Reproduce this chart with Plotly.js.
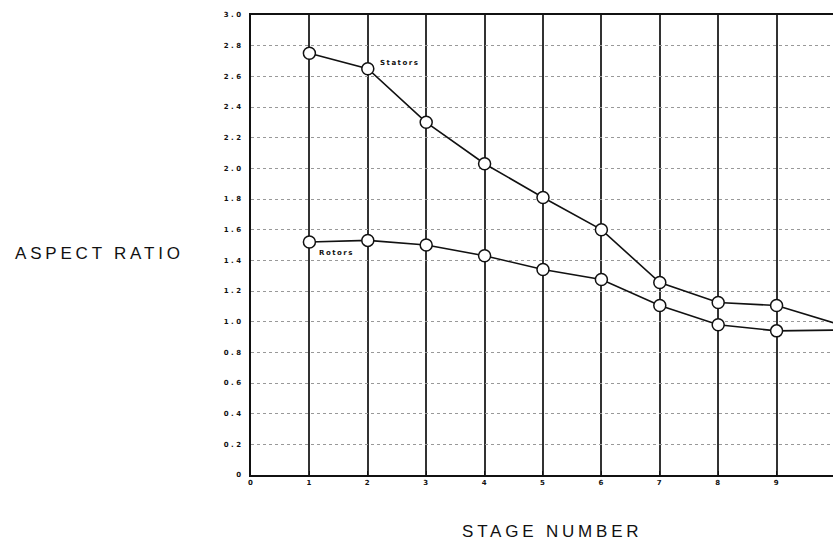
<!DOCTYPE html>
<html><head><meta charset="utf-8">
<script src="https://cdn.plot.ly/plotly-3.0.1.min.js"></script>
<style>html,body{margin:0;padding:0;background:#fff}#chart{width:833px;height:544px}</style>
</head><body><div id="chart"></div>
<script>
const stages = [1, 2, 3, 4, 5, 6, 7, 8, 9, 10];
const stators = [2.75, 2.65, 2.30, 2.03, 1.81, 1.60, 1.255, 1.125, 1.105, 0.99];
const rotors = [1.52, 1.53, 1.50, 1.43, 1.34, 1.275, 1.105, 0.98, 0.94, 0.945];
const yTickVals = [0, 0.2, 0.4, 0.6, 0.8, 1.0, 1.2, 1.4, 1.6, 1.8, 2.0, 2.2, 2.4, 2.6, 2.8, 3.0];
const yTickText = ["0", "0.2", "0.4", "0.6", "0.8", "1.0", "1.2", "1.4", "1.6", "1.8", "2.0", "2.2", "2.4", "2.6", "2.8", "3.0"];
const xTickVals = [0, 1, 2, 3, 4, 5, 6, 7, 8, 9, 10];
const xTickText = ["0", "1", "2", "3", "4", "5", "6", "7", "8", "9", "10"];

const sp = (t, px) => '<span style="letter-spacing:' + px + 'px">' + t + '</span>';

const mk = {symbol: 'circle', size: 12, color: '#fff', line: {color: '#111', width: 1.5}};
const traces = [
  {x: stages, y: stators, name: 'Stators', mode: 'lines+markers', line: {color: '#111', width: 1.6}, marker: mk, cliponaxis: false},
  {x: stages, y: rotors, name: 'Rotors', mode: 'lines+markers', line: {color: '#111', width: 1.6}, marker: mk, cliponaxis: false}
];
const layout = {
  width: 833, height: 544,
  margin: {l: 251, r: 0, t: 15, b: 69},
  paper_bgcolor: '#fff', plot_bgcolor: '#fff',
  showlegend: false,
  font: {family: 'DejaVu Sans, Arial, sans-serif', color: '#111'},
  xaxis: {
    range: [0, 9.966], tickvals: xTickVals, ticktext: xTickText.map(t => sp(t, 1)),
    showgrid: true, gridcolor: '#333', gridwidth: 2,
    showline: true, linecolor: '#111', linewidth: 2, mirror: true,
    zeroline: false, ticks: 'inside', ticklen: 4, tickcolor: '#111',
    tickfont: {size: 7, family: 'DejaVu Sans', weight: 'bold'}
  },
  yaxis: {
    range: [0, 3.0], tickvals: yTickVals, ticktext: yTickText.map(t => sp(t, 2.5)),
    showgrid: true, gridcolor: '#999', gridwidth: 1, griddash: 'dot',
    showline: true, linecolor: '#111', linewidth: 2,
    zeroline: false, ticks: '', ticklabelstandoff: 4,
    tickfont: {size: 7, family: 'DejaVu Sans', weight: 'bold'}
  },
  annotations: [
    {text: sp('ASPECT RATIO', 3.8), xref: 'paper', yref: 'paper', x: -0.26, y: 0.482, xanchor: 'center', showarrow: false,
     font: {size: 17, family: 'Liberation Sans, Arial, sans-serif'}},
    {text: sp('STAGE NUMBER', 3.8), xref: 'paper', yref: 'paper', x: 0.517, y: -0.098, xanchor: 'center', yanchor: 'top', showarrow: false,
     font: {size: 17, family: 'Liberation Sans, Arial, sans-serif'}},
    {text: sp('Stators', 1.5), x: 2.17, y: 2.686, xanchor: 'left', showarrow: false,
     font: {size: 7, family: 'DejaVu Sans', weight: 'bold'}},
    {text: sp('Rotors', 1.5), x: 1.13, y: 1.45, xanchor: 'left', showarrow: false,
     font: {size: 7, family: 'DejaVu Sans', weight: 'bold'}}
  ]
};
Plotly.newPlot('chart', traces, layout, {displayModeBar: false, staticPlot: true});
</script></body></html>
